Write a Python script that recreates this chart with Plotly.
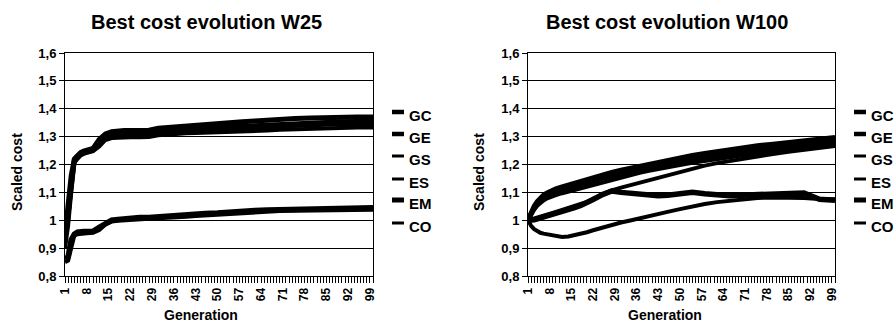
import plotly.graph_objects as go

# ---------------- data ----------------
GEN = [1, 2, 3, 4, 5, 6, 7, 8, 10, 12, 14, 16, 18, 20, 22, 25, 28, 31, 34, 37,
       40, 43, 46, 50, 54, 58, 62, 66, 70, 75, 80, 85, 90, 95, 100]

SERIES = ["GC", "GE", "GS", "ES", "EM", "CO"]

# W25
W25_GC = [0.95, 1.06, 1.16, 1.22, 1.235, 1.243, 1.248, 1.252, 1.258, 1.290, 1.310, 1.318, 1.321, 1.322, 1.322, 1.322, 1.323, 1.330, 1.333, 1.335,
          1.338, 1.340, 1.342, 1.345, 1.349, 1.353, 1.356, 1.360, 1.363, 1.365, 1.367, 1.369, 1.370, 1.370, 1.370]
W25_GE = [0.93, 1.03, 1.14, 1.215, 1.230, 1.238, 1.243, 1.248, 1.252, 1.280, 1.302, 1.310, 1.313, 1.315, 1.315, 1.316, 1.317, 1.322, 1.325, 1.327,
          1.330, 1.331, 1.333, 1.335, 1.336, 1.337, 1.339, 1.343, 1.346, 1.348, 1.350, 1.352, 1.353, 1.354, 1.355]
W25_GS = [0.92, 1.00, 1.12, 1.210, 1.225, 1.235, 1.240, 1.245, 1.250, 1.272, 1.295, 1.302, 1.305, 1.306, 1.307, 1.307, 1.308, 1.314, 1.317, 1.319,
          1.321, 1.323, 1.325, 1.326, 1.327, 1.328, 1.330, 1.334, 1.337, 1.339, 1.341, 1.343, 1.344, 1.345, 1.345]
W25_ES = [0.90, 0.98, 1.10, 1.205, 1.220, 1.232, 1.238, 1.242, 1.248, 1.265, 1.288, 1.295, 1.297, 1.298, 1.298, 1.298, 1.299, 1.305, 1.308, 1.310,
          1.312, 1.313, 1.314, 1.315, 1.315, 1.316, 1.318, 1.322, 1.325, 1.327, 1.329, 1.331, 1.332, 1.333, 1.333]
W25_EM = [0.86, 0.87, 0.93, 0.950, 0.957, 0.960, 0.960, 0.960, 0.960, 0.975, 0.990, 1.000, 1.003, 1.006, 1.008, 1.010, 1.010, 1.013, 1.017, 1.018,
          1.020, 1.022, 1.024, 1.026, 1.030, 1.034, 1.035, 1.037, 1.038, 1.040, 1.041, 1.043, 1.044, 1.045, 1.045]
W25_CO = [0.85, 0.855, 0.90, 0.945, 0.950, 0.952, 0.953, 0.953, 0.955, 0.965, 0.985, 0.995, 0.998, 1.000, 1.002, 1.003, 1.005, 1.007, 1.010, 1.012,
          1.013, 1.015, 1.017, 1.020, 1.023, 1.027, 1.030, 1.032, 1.033, 1.034, 1.035, 1.036, 1.037, 1.038, 1.038]

# W100
W100_GC = [1.0, 1.030, 1.050, 1.067, 1.080, 1.090, 1.097, 1.103, 1.113, 1.120, 1.127, 1.133, 1.140, 1.148, 1.155, 1.163, 1.172, 1.180, 1.187, 1.195,
           1.203, 1.210, 1.216, 1.224, 1.232, 1.240, 1.247, 1.253, 1.260, 1.267, 1.273, 1.280, 1.286, 1.292, 1.297]
W100_GE = [1.0, 1.025, 1.045, 1.060, 1.072, 1.080, 1.087, 1.093, 1.102, 1.108, 1.115, 1.121, 1.128, 1.135, 1.142, 1.150, 1.158, 1.166, 1.173, 1.180,
           1.188, 1.195, 1.202, 1.210, 1.218, 1.226, 1.233, 1.240, 1.246, 1.253, 1.260, 1.266, 1.272, 1.278, 1.283]
W100_GS = [1.0, 1.020, 1.038, 1.052, 1.063, 1.071, 1.078, 1.083, 1.090, 1.097, 1.103, 1.109, 1.115, 1.122, 1.128, 1.137, 1.146, 1.154, 1.162, 1.170,
           1.177, 1.184, 1.190, 1.198, 1.206, 1.213, 1.220, 1.226, 1.233, 1.240, 1.247, 1.254, 1.260, 1.266, 1.272]
W100_ES = [1.0, 1.003, 1.006, 1.010, 1.013, 1.017, 1.020, 1.023, 1.030, 1.037, 1.044, 1.051, 1.058, 1.066, 1.078, 1.093, 1.107, 1.117, 1.126, 1.135,
           1.144, 1.153, 1.162, 1.175, 1.186, 1.196, 1.205, 1.213, 1.221, 1.230, 1.238, 1.246, 1.253, 1.260, 1.266]
W100_EM = [1.0, 1.000, 1.002, 1.005, 1.008, 1.011, 1.014, 1.017, 1.023, 1.030, 1.037, 1.045, 1.053, 1.062, 1.074, 1.092, 1.105, 1.100, 1.096, 1.093,
           1.090, 1.088, 1.090, 1.093, 1.100, 1.095, 1.090, 1.088, 1.090, 1.092, 1.095, 1.098, 1.098, 1.075, 1.072]
W100_CO = [1.0, 0.980, 0.968, 0.960, 0.955, 0.952, 0.950, 0.948, 0.945, 0.940, 0.942, 0.946, 0.951, 0.957, 0.964, 0.974, 0.984, 0.992, 0.999, 1.006,
           1.014, 1.022, 1.030, 1.040, 1.050, 1.058, 1.065, 1.070, 1.075, 1.080, 1.082, 1.082, 1.080, 1.076, 1.075]

W25 = [W25_GC, W25_GE, W25_GS, W25_ES, W25_EM, W25_CO]
W100 = [W100_GC, W100_GE, W100_GS, W100_ES, W100_EM, W100_CO]

TITLES = ["Best cost evolution W25", "Best cost evolution W100"]
X_TITLE = "Generation"
Y_TITLE = "Scaled cost"

X_TICK_VALS = [1, 8, 15, 22, 29, 36, 43, 50, 57, 64, 71, 78, 85, 92, 99]
X_TICK_TEXT = ["1", "8", "15", "22", "29", "36", "43", "50", "57", "64", "71", "78", "85", "92", "99"]
Y_TICK_VALS = [0.8, 0.9, 1.0, 1.1, 1.2, 1.3, 1.4, 1.5, 1.6]
Y_TICK_TEXT = ["0,8", "0,9", "1", "1,1", "1,2", "1,3", "1,4", "1,5", "1,6"]

# ---------------- styling ----------------
W, H = 896, 325
LINE_W = [5, 5, 4, 4, 5.5, 4]
LEG_W = [4.5, 4.5, 3, 3, 5, 3]
FONT = "Liberation Sans, Arial, sans-serif"


def px_x(p):
    return p / W


def px_y(p):
    return 1 - p / H


fig = go.Figure()

for i, name in enumerate(SERIES):
    fig.add_trace(go.Scatter(x=GEN, y=W25[i], mode="lines", name=name, showlegend=False,
                             line=dict(color="black", width=LINE_W[i]), xaxis="x", yaxis="y"))
for i, name in enumerate(SERIES):
    fig.add_trace(go.Scatter(x=GEN, y=W100[i], mode="lines", name=name, showlegend=False,
                             line=dict(color="black", width=LINE_W[i]), xaxis="x2", yaxis="y2"))

y_dom = [49 / H, 272 / H]
x_doms = [[65 / W, 373 / W], [528 / W, 835 / W]]

common_x = dict(range=[1, 100], tickmode="array", tickvals=X_TICK_VALS, ticktext=X_TICK_TEXT,
                tickangle=-90, ticks="outside", ticklen=6, tickcolor="black", tickwidth=1,
                showgrid=False, zeroline=False, showline=True, linecolor="black", linewidth=1,
                mirror=True, automargin=False,
                minor=dict(ticks="outside", ticklen=6, dtick=1, tick0=1, tickcolor="black",
                           tickwidth=1, showgrid=False),
                tickfont=dict(family=FONT, size=12, color="black", weight="bold"))
common_y = dict(range=[0.8, 1.6], tickmode="array", tickvals=Y_TICK_VALS, ticktext=Y_TICK_TEXT,
                ticks="outside", ticklen=5, tickcolor="black", showgrid=True, gridcolor="black",
                gridwidth=1, zeroline=False, showline=True, linecolor="black", linewidth=1,
                mirror=True, automargin=False,
                tickfont=dict(family=FONT, size=13, color="black", weight="bold"))

fig.update_layout(
    width=W, height=H, autosize=False,
    margin=dict(l=0, r=0, t=0, b=0),
    paper_bgcolor="white", plot_bgcolor="white",
    showlegend=False,
    xaxis=dict(domain=x_doms[0], anchor="y", **common_x),
    yaxis=dict(domain=y_dom, anchor="x", **common_y),
    xaxis2=dict(domain=x_doms[1], anchor="y2", **common_x),
    yaxis2=dict(domain=y_dom, anchor="x2", **common_y),
)

annotations = []
shapes = []
title_cx = [206, 667]
ytitle_cx = [17, 479]
xtitle_cx = [201, 665]
legend_mark = [(392, 404), (854, 866)]
legend_text_x = [407, 869]
legend_y = [115, 137, 159, 182, 203, 226]

for k in range(2):
    annotations.append(dict(text=TITLES[k], x=px_x(title_cx[k]), y=px_y(22), xref="paper", yref="paper",
                            showarrow=False, xanchor="center", yanchor="middle",
                            font=dict(family=FONT, size=20, color="black", weight="bold")))
    annotations.append(dict(text=Y_TITLE, x=px_x(ytitle_cx[k]), y=px_y(172), xref="paper", yref="paper",
                            showarrow=False, xanchor="center", yanchor="middle", textangle=-90,
                            font=dict(family=FONT, size=14, color="black", weight="bold")))
    annotations.append(dict(text=X_TITLE, x=px_x(xtitle_cx[k]), y=px_y(315), xref="paper", yref="paper",
                            showarrow=False, xanchor="center", yanchor="middle",
                            font=dict(family=FONT, size=14, color="black", weight="bold")))
    for i, name in enumerate(SERIES):
        yy = legend_y[i]
        shapes.append(dict(type="line", xref="paper", yref="paper",
                           x0=px_x(legend_mark[k][0]), x1=px_x(legend_mark[k][1]),
                           y0=px_y(yy - 3), y1=px_y(yy - 3),
                           line=dict(color="black", width=LEG_W[i])))
        annotations.append(dict(text=name, x=px_x(legend_text_x[k]), y=px_y(yy), xref="paper", yref="paper",
                                showarrow=False, xanchor="left", yanchor="middle",
                                font=dict(family=FONT, size=15, color="black", weight="bold")))

fig.update_layout(annotations=annotations, shapes=shapes)

# the page body should not add its default margin around the 896x325 figure
fig.write_html("out.html", post_script="document.body.style.margin='0';document.body.style.overflow='hidden';")
